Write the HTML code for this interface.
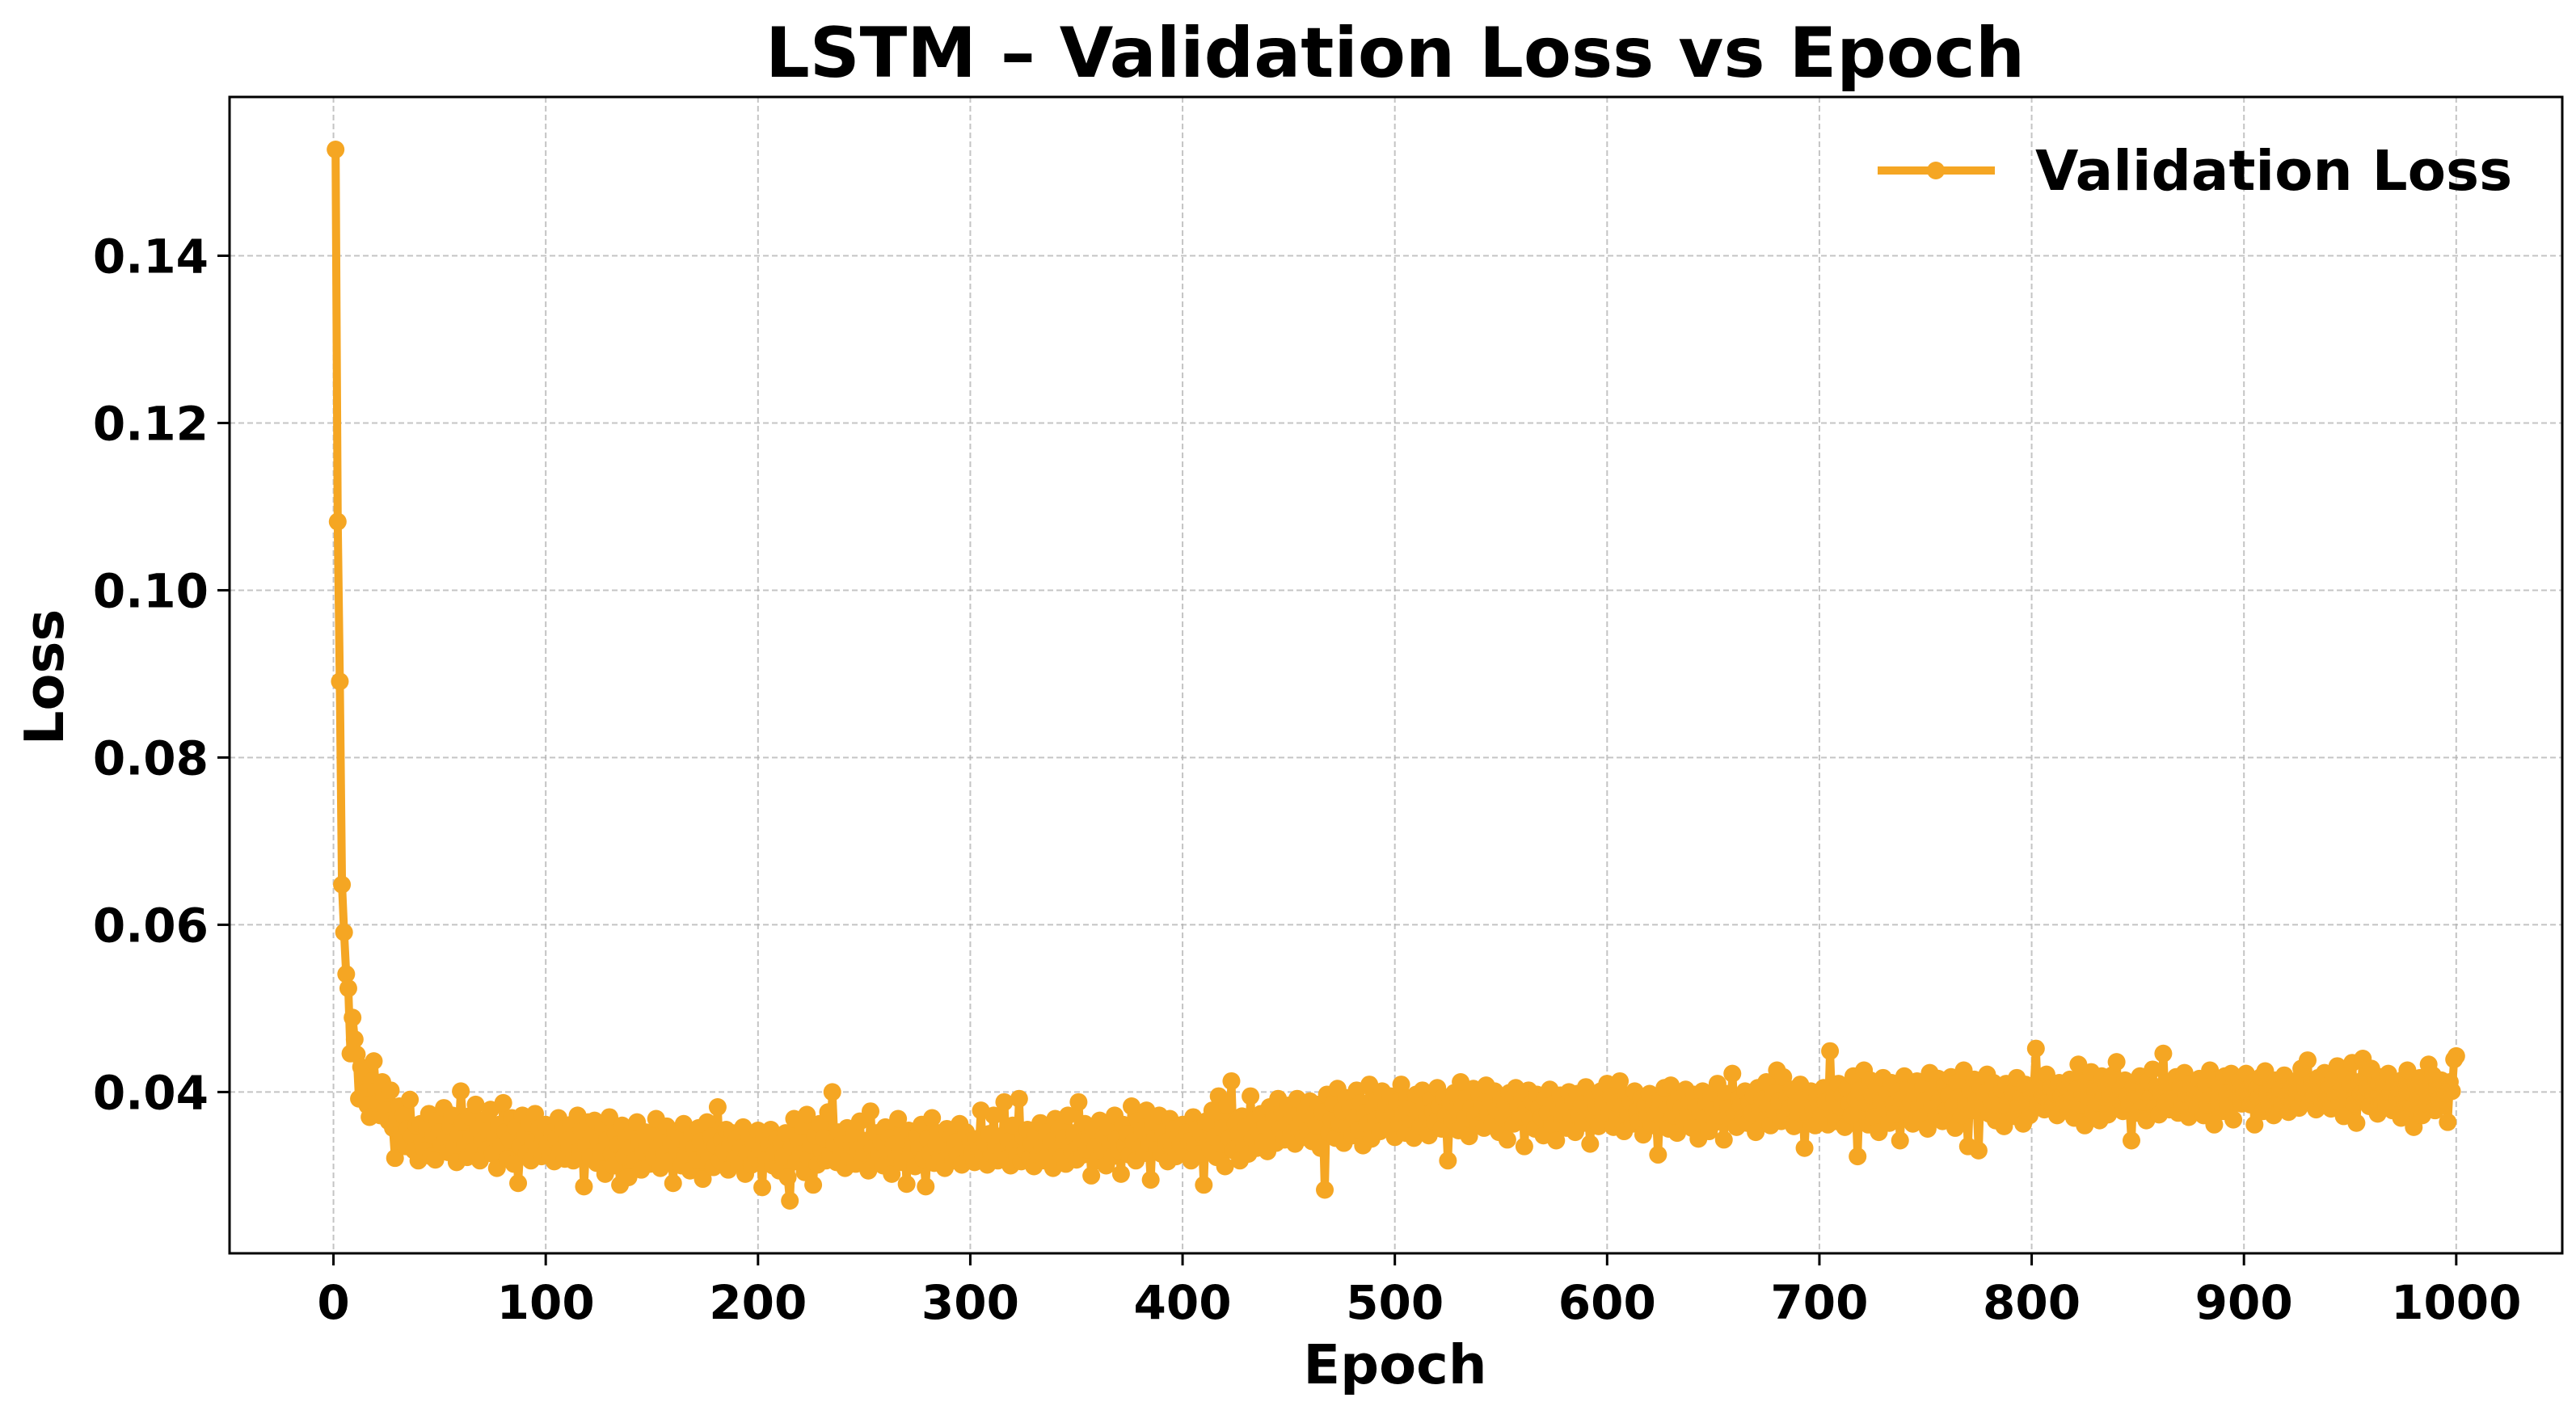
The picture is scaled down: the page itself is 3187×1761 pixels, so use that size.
<!DOCTYPE html>
<html><head><meta charset="utf-8"><style>
html,body{margin:0;padding:0;background:#fff;}
svg text{font-family:"DejaVu Sans","Liberation Sans",sans-serif;font-weight:bold;fill:#000;}
</style></head><body>
<svg id="chart" width="3187" height="1756" xmlns="http://www.w3.org/2000/svg">
<rect width="3187" height="1756" fill="#fff"/>
<text x="1726" y="95" font-size="86" text-anchor="middle">LSTM – Validation Loss vs Epoch</text>
<g id="grid"></g>
<g id="series"></g>
<g id="axes"></g>
<text x="1726" y="1712" font-size="67" text-anchor="middle">Epoch</text>
<text transform="translate(78,838) rotate(-90)" font-size="67" text-anchor="middle">Loss</text>
<g>
<line x1="2323" y1="211" x2="2468" y2="211" stroke="#F5A623" stroke-width="10"/>
<circle cx="2395" cy="211" r="11" fill="#F5A623"/>
<text x="2518" y="235" font-size="69">Validation Loss</text>
</g>
</svg>
<script>
const lossE4 = [1527,1082,891,648,591,541,524,446,489,463,445,392,430,418,399,384,370,413,437,401,
388,372,412,395,378,365,402,357,321,368,383,349,372,335,356,391,347,330,360,318,
362,341,330,355,374,323,348,319,366,352,337,381,344,328,359,372,333,316,349,401,364,338,322,371,347,329,385,356,318,342,367,331,354,379,326,345,309,361,336,387,352,320,343,369,314,358,291,335,372,349,327,363,318,340,374,332,357,323,346,361,
338,324,352,317,345,369,331,356,320,342,334,361,318,347,372,329,353,287,336,364,322,349,366,315,341,328,357,302,343,370,326,312,351,337,289,360,323,346,298,333,355,318,364,341,307,329,352,336,314,347,321,368,335,309,344,326,359,317,338,291,353,330,345,312,362,324,339,306,350,333,319,357,341,296,328,364,322,347,310,336,382,318,343,329,355,307,338,351,320,344,315,333,358,302,327,346,313,339,321,354,
331,286,347,319,338,355,312,328,344,306,339,323,351,298,270,335,368,317,342,326,359,304,373,321,337,289,348,313,362,330,345,318,376,325,400,339,316,352,328,343,309,357,322,336,349,314,331,365,318,327,342,306,377,333,319,351,324,340,312,358,330,345,302,337,321,368,329,316,343,290,354,326,339,311,348,333,361,320,287,344,327,369,315,338,351,322,336,309,356,331,347,318,340,325,362,313,334,352,320,341,
327,316,344,331,378,322,339,313,350,326,372,335,318,347,329,388,320,341,312,360,333,324,392,317,346,330,355,321,338,311,349,325,363,334,318,352,327,341,309,368,330,357,322,345,314,372,336,328,351,319,388,340,325,362,331,346,300,355,334,318,366,329,349,312,357,338,323,372,344,330,302,361,336,350,325,383,341,318,366,333,354,327,378,339,295,360,345,331,372,326,352,340,317,368,335,356,323,347,338,361,
329,352,341,318,370,337,356,326,349,289,365,342,331,378,346,322,395,338,357,311,384,345,413,330,362,349,318,371,336,358,326,395,344,367,333,353,374,341,360,329,382,350,368,339,392,356,375,343,361,384,349,371,338,392,357,368,346,379,354,389,341,372,360,385,333,376,283,397,351,367,386,345,404,362,378,339,393,357,381,348,370,402,355,387,336,375,362,409,344,380,367,391,353,401,372,386,359,395,378,346,
388,362,409,374,351,393,368,381,345,397,376,359,402,385,370,348,391,377,364,405,383,356,394,372,318,388,366,399,379,354,412,385,369,393,347,381,404,373,360,396,384,357,408,375,389,363,401,378,352,391,369,386,343,399,376,362,405,383,371,394,335,379,402,367,388,356,397,381,370,348,392,375,403,361,386,342,379,396,368,384,357,400,374,389,352,398,371,385,363,406,377,338,393,369,382,359,401,386,372,410,
375,395,358,387,368,413,380,353,396,374,389,362,401,377,365,392,349,384,371,398,360,386,374,325,391,368,405,379,356,408,372,387,351,395,381,366,403,374,389,357,397,382,344,376,401,369,388,353,395,378,364,410,372,386,343,398,381,367,422,376,358,392,384,369,401,363,388,375,396,352,405,379,391,367,412,384,360,398,377,426,389,365,418,372,394,381,403,359,387,376,409,392,333,385,371,401,379,360,394,383,
372,405,388,361,449,377,393,365,410,382,397,358,404,386,372,419,391,323,402,378,426,387,361,414,395,370,406,352,389,417,380,398,363,411,385,374,401,342,392,419,376,405,388,362,398,413,381,369,407,390,356,423,384,400,371,416,393,365,408,379,396,418,383,357,411,394,372,426,387,335,402,378,415,391,330,406,382,399,421,374,389,411,366,397,384,403,359,410,388,376,399,371,417,385,393,362,409,387,372,398,
404,452,388,413,396,379,421,390,405,383,398,372,411,395,386,407,377,415,392,369,403,433,385,398,360,412,391,424,376,401,387,366,419,394,408,373,397,420,382,436,391,403,377,414,396,386,342,408,392,375,419,388,401,366,413,394,427,381,406,373,398,446,387,411,379,402,392,418,375,407,385,423,397,370,410,388,402,381,416,393,372,409,385,426,396,361,414,390,405,377,419,398,383,422,367,405,391,413,386,400,
422,396,385,411,361,404,393,418,377,425,398,386,409,372,414,391,403,384,420,395,376,407,389,413,399,381,428,392,405,438,387,412,396,379,417,401,385,423,392,408,380,415,397,431,388,404,371,419,393,409,435,386,363,412,398,440,391,405,383,428,396,412,374,418,390,407,385,422,399,378,411,393,404,369,415,388,426,400,381,358,409,394,417,372,403,386,433,395,420,378,407,391,414,385,398,364,412,401,439,443];
const xTicks = [0,100,200,300,400,500,600,700,800,900,1000];
const yTicks = [0.04,0.06,0.08,0.10,0.12,0.14];
const yTickLabels = ["0.04","0.06","0.08","0.10","0.12","0.14"];

const NS="http://www.w3.org/2000/svg";
const L=284,R=3170,T=120,B=1551;
const n=lossE4.length;
const vals=lossE4.map(v=>v/10000);
const xmin=1-0.05*(n-1), xmax=n+0.05*(n-1);
const vmin=Math.min(...vals), vmax=Math.max(...vals), pad=0.05*(vmax-vmin);
const ymin=vmin-pad, ymax=vmax+pad;
const X=v=>L+(v-xmin)/(xmax-xmin)*(R-L);
const Y=v=>B-(v-ymin)/(ymax-ymin)*(B-T);
function mk(tag,attrs,parent){const e=document.createElementNS(NS,tag);for(const k in attrs)e.setAttribute(k,attrs[k]);parent.appendChild(e);return e;}
const grid=document.getElementById('grid'),axes=document.getElementById('axes'),series=document.getElementById('series');
xTicks.forEach(t=>{const x=X(t);
 const g=mk('line',{x1:x,x2:x,y1:T,y2:B,stroke:'#b0b0b0','stroke-width':2,'stroke-dasharray':'7,4','stroke-opacity':0.75},grid);
 
 
 const tk=mk('line',{x1:x,x2:x,y1:B,y2:B+15,stroke:'#000','stroke-width':3},axes);
 
 
 const lb=mk('text',{x:x,y:1632,'font-size':58,'text-anchor':'middle'},axes);lb.textContent=t;
 
 
});
yTicks.forEach((t,i)=>{const y=Y(t);
 const g=mk('line',{x1:L,x2:R,y1:y,y2:y,stroke:'#b0b0b0','stroke-width':2,'stroke-dasharray':'7,4','stroke-opacity':0.75},grid);
 
 
 const tk=mk('line',{x1:L-15,x2:L,y1:y,y2:y,stroke:'#000','stroke-width':3},axes);
 
 
 const lb=mk('text',{x:258,y:y+21,'font-size':58,'text-anchor':'end'},axes);lb.textContent=yTickLabels[i];
 
 
});
const frame=mk('rect',{x:L,y:T,width:R-L,height:B-T,fill:'none',stroke:'#000','stroke-width':3},axes);


const pts=vals.map((v,i)=>X(i+1).toFixed(1)+','+Y(v).toFixed(1)).join(' ');
const pl=mk('polyline',{points:pts,fill:'none',stroke:'#F5A623','stroke-width':10,'stroke-linejoin':'round'},series);


vals.forEach((v,i)=>{const c=mk('circle',{cx:X(i+1),cy:Y(v),r:11,fill:'#F5A623'},series);
 
 
});
</script>
</body></html>
